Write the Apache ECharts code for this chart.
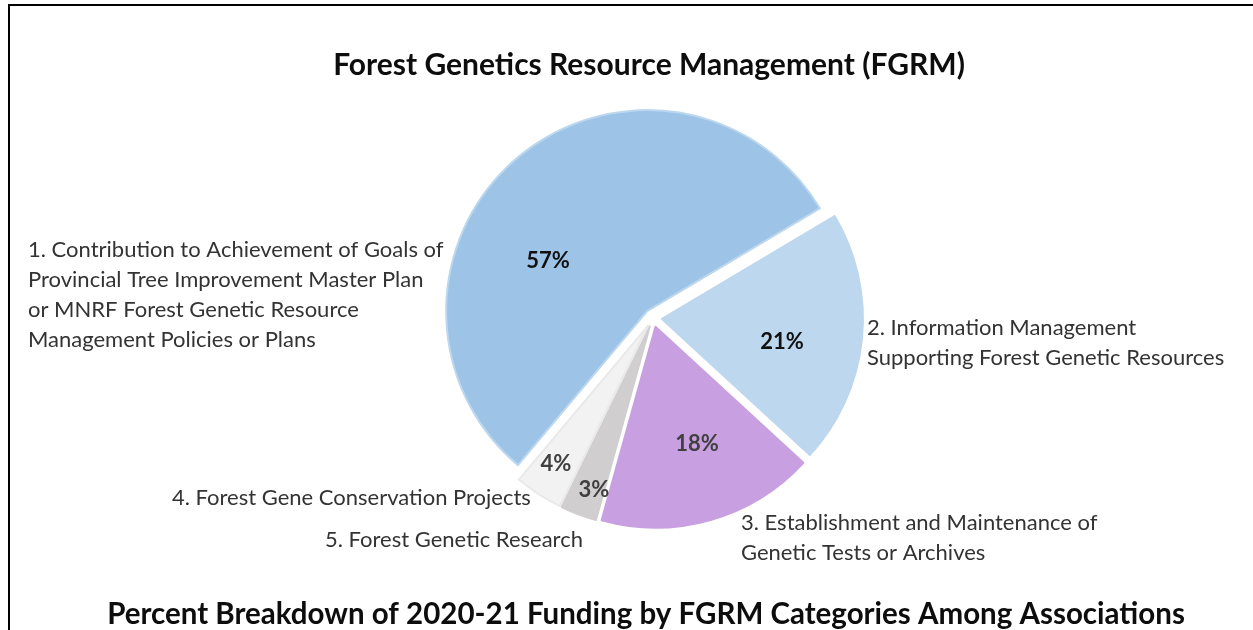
<!DOCTYPE html>
<html>
<head>
<meta charset="utf-8">
<title>FGRM funding breakdown</title>
<script src="https://cdn.jsdelivr.net/npm/echarts@6/dist/echarts.min.js"></script>
<style>
  html, body { margin: 0; padding: 0; background: #fff; }
  #chart { width: 1253px; height: 630px; }
</style>
</head>
<body>
<div id="chart"></div>
<script>
  // order follows the slices clockwise, starting with the big one
  const categories = [
    "1. Contribution to Achievement of Goals of\nProvincial Tree Improvement Master Plan\nor MNRF Forest Genetic Resource\nManagement Policies or Plans",
    "2. Information Management\nSupporting Forest Genetic Resources",
    "3. Establishment and Maintenance of\nGenetic Tests or Archives",
    "5. Forest Genetic Research",
    "4. Forest Gene Conservation Projects"
  ]
  const percents = [57, 21, 18, 3, 4]

  const sliceColors = ["#9DC3E6", "#BDD7EE", "#C8A0E2", "#D0CECE", "#F2F2F2"]
  const sliceBorders = ["#BDD7EE", "#BDD7EE", "#C8A0E2", "#D0CECE", "#E9E9E9"]
  const valueColors = ["#111111", "#111111", "#404040", "#404040", "#404040"]

  // where Excel parked the labels (px in the 1253x630 frame)
  const nameSpots = [[28, 295], [867, 343], [741, 538], [325, 540], [172, 498]]
  const valueSpots = [[548, 261], [782, 342], [697, 444], [594, 490], [556, 464]]

  const font = "Lato, 'Open Sans', sans-serif"
  const center = [653, 318]
  const radius = 201
  const startAngle = 230

  const chart = echarts.init(document.getElementById("chart"), null, { renderer: "canvas" })

  // invisible twin of the pie that only carries labels
  const labelPie = (name, label, spots, align, colors) => ({
    name,
    type: "pie",
    silent: true,
    center,
    radius,
    startAngle,
    selectedMode: false,
    avoidLabelOverlap: false,
    itemStyle: { color: "rgba(0,0,0,0)", borderWidth: 0 },
    labelLine: { show: false },
    label: { position: "outside", overflow: "none", fontFamily: font, ...label },
    labelLayout: (p) => ({
      x: spots[p.dataIndex][0],
      y: spots[p.dataIndex][1],
      align,
      verticalAlign: "middle"
    }),
    data: percents.map((v, i) => ({ name: categories[i], value: v, label: { color: colors[i] } }))
  })

  chart.setOption({
    animation: false,
    title: [
      {
        text: "Forest Genetics Resource Management (FGRM)",
        left: 644,
        top: 45,
        textAlign: "center",
        textStyle: { fontFamily: font, fontSize: 30, fontWeight: "bold", color: "#0d0d0d" }
      },
      {
        text: "Percent Breakdown of 2020-21 Funding by FGRM Categories Among Associations",
        left: 641,
        top: 594,
        textAlign: "center",
        textStyle: { fontFamily: font, fontSize: 29.5, fontWeight: "bold", color: "#0d0d0d" }
      }
    ],
    graphic: [
      {
        type: "polyline",
        shape: { points: [[9, 630], [9, 5], [1253, 5]] },
        style: { stroke: "#000", lineWidth: 2, fill: null }
      }
    ],
    series: [
      {
        name: "slices",
        type: "pie",
        center,
        radius,
        startAngle,
        clockwise: true,
        selectedMode: "multiple",
        selectedOffset: 9,
        emphasis: { disabled: true },
        label: { show: false },
        labelLine: { show: false },
        data: percents.map((v, i) => ({
          name: categories[i],
          value: v,
          selected: true,
          itemStyle: { color: sliceColors[i], borderColor: sliceBorders[i], borderWidth: 2 }
        }))
      },
      labelPie("values", { formatter: "{c}%", fontSize: 22, fontWeight: "bold" },
        valueSpots, "center", valueColors),
      labelPie("names", { formatter: "{b}", fontSize: 22, lineHeight: 30 },
        nameSpots, "left", categories.map(() => "#333333"))
    ]
  })
</script>
</body>
</html>
